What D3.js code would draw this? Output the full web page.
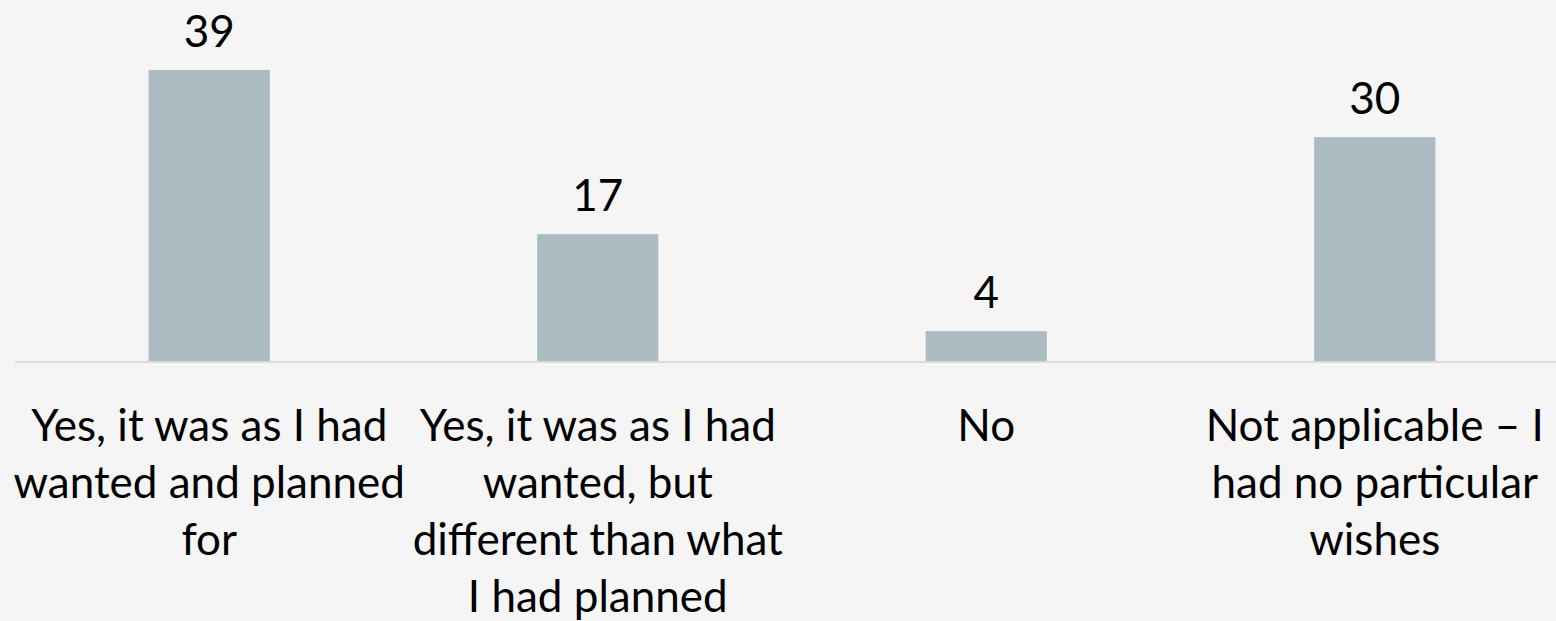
<!DOCTYPE html>
<html>
<head>
<meta charset="utf-8">
<script src="https://cdn.jsdelivr.net/npm/d3@7"></script>
<style>
  html, body { margin: 0; padding: 0; background: #f5f5f5; }
  svg { display: block; font-family: Lato, "Open Sans", sans-serif; }
</style>
</head>
<body>
<svg id="chart" width="1556" height="621"></svg>
<script>
// categories and values
var categories = [
  "Yes, it was as I had wanted and planned for",
  "Yes, it was as I had wanted, but different than what I had planned",
  "No",
  "Not applicable \u2013 I had no particular wishes"
];
var values = [39, 17, 4, 30];
// tick labels, broken the way the picture breaks them
var tickLines = [
  ["Yes, it was as I had", "wanted and planned", "for"],
  ["Yes, it was as I had", "wanted, but", "different than what", "I had planned"],
  ["No"],
  ["Not applicable \u2013 I", "had no particular", "wishes"]
];

var svg = d3.select("#chart");
var w = 1556, base = 361;

var x = d3.scaleBand()
  .domain(categories)
  .range([15, 1569])
  .paddingInner(0.688)
  .paddingOuter(0.344);

var y = d3.scaleLinear()
  .domain([0, 39])
  .range([base, 70]);

svg.append("rect")
  .attr("width", w).attr("height", 621)
  .attr("fill", "#f5f5f5");

svg.selectAll("rect.bar")
  .data(values)
  .enter().append("rect")
  .attr("class", "bar")
  .attr("x", function(d, i) { return x(categories[i]); })
  .attr("width", x.bandwidth())
  .attr("y", function(d) { return y(d); })
  .attr("height", function(d) { return base - y(d); })
  .attr("fill", "#abbcc1");

// baseline
svg.append("line")
  .attr("x1", 15).attr("x2", w)
  .attr("y1", base + 1).attr("y2", base + 1)
  .attr("stroke", "#dcdcdc")
  .attr("stroke-width", 2);

svg.selectAll("text.value")
  .data(values)
  .enter().append("text")
  .attr("class", "value")
  .attr("x", function(d, i) { return x(categories[i]) + x.bandwidth() / 2; })
  .attr("y", function(d) { return y(d) - 23; })
  .attr("text-anchor", "middle")
  .attr("font-size", 44)
  .attr("fill", "#000")
  .text(function(d) { return d; });

var ticks = svg.selectAll("text.tick")
  .data(tickLines)
  .enter().append("text")
  .attr("class", "tick")
  .attr("text-anchor", "middle")
  .attr("font-size", 44)
  .attr("fill", "#000");

ticks.selectAll("tspan")
  .data(function(d, i) { return d.map(function(s) { return { s: s, i: i }; }); })
  .enter().append("tspan")
  .attr("x", function(d) { return x(categories[d.i]) + x.bandwidth() / 2; })
  .attr("y", function(d, j) { return 441 + j * 57; })
  .text(function(d) { return d.s; });
</script>
</body>
</html>
